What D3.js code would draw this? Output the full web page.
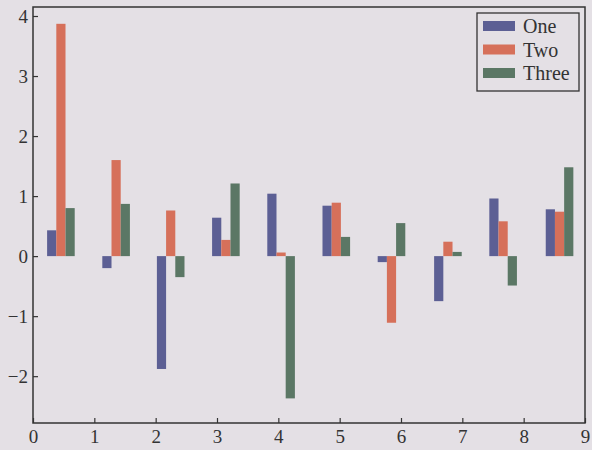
<!DOCTYPE html>
<html>
<head>
<meta charset="utf-8">
<script src="https://cdn.jsdelivr.net/npm/d3@7"></script>
<style>
  body { margin: 0; background: #e4e0e5; }
  svg { display: block; font-family: "Liberation Serif", "DejaVu Serif", serif; }
</style>
</head>
<body>
<div id="chart"></div>
<script>
// left edge of each group of bars
var groupX = [0.23, 1.13, 2.02, 2.92, 3.82, 4.72, 5.62, 6.54, 7.44, 8.36];
var seriesNames = ["One", "Two", "Three"];
var one = [0.43, -0.2, -1.88, 0.64, 1.04, 0.84, -0.1, -0.75, 0.96, 0.78];
var two = [3.87, 1.6, 0.76, 0.27, 0.06, 0.89, -1.11, 0.24, 0.58, 0.74];
var three = [0.8, 0.87, -0.35, 1.21, -2.37, 0.32, 0.55, 0.07, -0.49, 1.48];
var xTicks = [0, 1, 2, 3, 4, 5, 6, 7, 8, 9];
var yTicks = [-2, -1, 0, 1, 2, 3, 4];

var colors = ["#5c5f94", "#d6705a", "#5b7765"];
var barWidth = 0.15;

var svgWidth = 592, svgHeight = 450;
var margin = { top: 7, right: 7, bottom: 27, left: 33 };
var chartWidth = svgWidth - margin.left - margin.right;
var chartHeight = svgHeight - margin.top - margin.bottom;

var svg = d3.select("#chart").append("svg")
  .attr("width", svgWidth)
  .attr("height", svgHeight);

svg.append("rect")
  .attr("width", svgWidth).attr("height", svgHeight)
  .attr("fill", "#e4e0e5");

var chartGroup = svg.append("g")
  .attr("transform", `translate(${margin.left}, ${margin.top})`);

var x = d3.scaleLinear().domain([0, 9]).range([0, chartWidth]);
var y = d3.scaleLinear().domain([-2.78, 4.15]).range([chartHeight, 0]);

var series = [one, two, three];

series.forEach(function(values, s) {
  chartGroup.selectAll(".bar" + s)
    .data(values)
    .enter()
    .append("rect")
    .attr("class", "bar" + s)
    .attr("x", (d, i) => x(groupX[i] + s * barWidth))
    .attr("width", x(barWidth) - x(0))
    .attr("y", d => y(Math.max(0, d)))
    .attr("height", d => Math.abs(y(d) - y(0)))
    .attr("fill", colors[s]);
});

// axes with inward ticks
var xAxis = d3.axisBottom(x).tickValues(xTicks).tickSize(-5).tickPadding(8).tickFormat(d3.format("d"));
var yAxis = d3.axisLeft(y).tickValues(yTicks).tickSize(-5).tickPadding(8)
  .tickFormat(d => d < 0 ? "\u2212" + Math.abs(d) : d);

var gx = chartGroup.append("g")
  .attr("transform", `translate(0, ${chartHeight})`)
  .call(xAxis);
var gy = chartGroup.append("g").call(yAxis);

[gx, gy].forEach(function(g) {
  g.select(".domain").remove();
  g.selectAll(".tick line").attr("stroke", "#333").attr("stroke-width", 1.2);
  g.selectAll(".tick text")
    .attr("fill", "#333")
    .style("font-size", "19px")
    .style("font-family", "Liberation Serif, serif");
});
gx.selectAll(".tick text").attr("dy", "0.62em");
gy.selectAll(".tick text").attr("dx", "3px");

// frame
chartGroup.append("rect")
  .attr("width", chartWidth).attr("height", chartHeight)
  .attr("fill", "none")
  .attr("stroke", "#333")
  .attr("stroke-width", 1.5);

// legend
var legend = chartGroup.append("g")
  .attr("transform", `translate(${477 - margin.left}, ${13 - margin.top})`);
legend.append("rect")
  .attr("width", 102).attr("height", 78)
  .attr("fill", "#e4e0e5")
  .attr("stroke", "#333")
  .attr("stroke-width", 1.3);
seriesNames.forEach(function(name, i) {
  legend.append("rect")
    .attr("x", 6).attr("y", 8 + i * 23.5)
    .attr("width", 32).attr("height", 10)
    .attr("fill", colors[i]);
  legend.append("text")
    .attr("x", 46).attr("y", 20 + i * 23.5)
    .attr("fill", "#333")
    .style("font-size", "20px")
    .text(name);
});
</script>
</body>
</html>
